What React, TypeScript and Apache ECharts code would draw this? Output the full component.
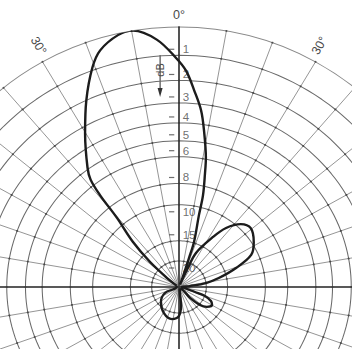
import React, { useEffect, useRef } from "react";
import * as echarts from "echarts";

// Radiation pattern: azimuth (degrees, clockwise from 0° at top) and
// attenuation relative to the main-lobe maximum (dB).
const PATTERN_ANGLES = [
  -60, -51.7, -47.8, -44.2, -40.5, -39.3, -38.1, -36.1, -30.2, -25.3, -20.6, -17.6, -13.0, -9.7,
  -4.9, -0.7, 1.8, 4.2, 6.8, 8.8, 11.2, 12.3, 14.0, 14.8, 17.6, 18.1, 20,
  21.5, 24, 25.5, 32.9, 37.2, 43.1, 49.3, 57.8, 65, 70.7, 76.7, 81.2, 84.6, 90,
  100, 108, 110, 114.7, 119.8, 126.8, 132, 136, 142,
  165, 174, 180, 191.8, 208.8, 228.7, 246, 255,
];
const PATTERN_DB = [
  40, 25.1, 16.9, 12.3, 9.1, 6.8, 5.6, 4.9, 3.3, 2.0, 0.9, 0.4, 0.05, 0,
  0.4, 1.1, 1.6, 2.4, 3.3, 4.4, 5.9, 7.0, 8.8, 10.9, 14.8, 18.6, 28.3,
  40, 22.3, 16.7, 12.8, 10.9, 9.6, 9.2, 9.8, 10.7, 13.1, 16.5, 20.0, 27.9, 40,
  40, 24.2, 19.9, 17.8, 17.1, 17.9, 19.7, 24.7, 40,
  40, 23.1, 19.1, 18.0, 18.8, 21.1, 25.0, 40,
];

// Attenuation levels: grid circles and the labelled dB scale
const GRID_DB = [1, 2, 3, 4, 5, 6, 8, 10, 15, 20];
const SCALE_DB = [1, 2, 3, 4, 5, 6, 8, 10, 15, 20];
const ANGLE_LABELS = ["0°", "30°", "30°"];

// dB attenuation -> relative field strength (radius)
const toAmp = (db: number) => Math.pow(10, -db / 20);

const CX = 179;
const CY = 287;
const R = 260;
const FONT = "Liberation Sans, Arial, sans-serif";
const INK = "#4a4a4a";

export default function App() {
  const ref = useRef<HTMLDivElement>(null);

  useEffect(() => {
    if (!ref.current) return;
    const chart = echarts.init(ref.current, null, { renderer: "svg" });

    const curve = PATTERN_ANGLES.map((a, i) => [toAmp(PATTERN_DB[i]), (a + 360) % 360]);
    curve.push(curve[0]);

    // constant-level rings of the polar grid
    const ringSeries = GRID_DB.map((db) => {
      const pts: number[][] = [];
      for (let a = 0; a <= 360; a += 2) pts.push([toAmp(db), a]);
      return {
        name: `ring ${db}`,
        type: "line",
        coordinateSystem: "polar",
        data: pts,
        symbol: "none",
        lineStyle: { color: "#6a6a6a", width: 1 },
        silent: true,
        z: 1,
      };
    });

    // small marks where rings and spokes cross
    const knots: number[][] = [];
    [0, ...GRID_DB].forEach((db) => {
      for (let a = 0; a < 360; a += 10) knots.push([toAmp(db), a]);
    });

    const belowCircle = new Set([10, 20]);
    const scaleData = SCALE_DB.map((d) => ({
      value: [toAmp(d), 0],
      name: String(d),
      symbolOffset: [-7, belowCircle.has(d) ? 7 : -6],
    }));

    const labelPos = (angleDeg: number, r: number) => {
      const t = (angleDeg * Math.PI) / 180;
      return [CX + r * Math.sin(t), CY - r * Math.cos(t)];
    };
    const [rx, ry] = labelPos(29, 276);
    const [lx, ly] = labelPos(-29, 276);

    chart.setOption({
      animation: false,
      backgroundColor: "#fff",
      textStyle: { fontFamily: FONT },
      polar: { center: [CX, CY], radius: R },
      angleAxis: {
        type: "value",
        min: 0,
        max: 360,
        interval: 10,
        startAngle: 90,
        clockwise: true,
        axisLine: { show: true, lineStyle: { color: "#8a8a8a", width: 1 } },
        axisTick: { show: false },
        axisLabel: { show: false },
        splitLine: { show: true, lineStyle: { color: "#8c8c8c", width: 0.9 } },
      },
      radiusAxis: {
        type: "value",
        min: 0,
        max: 1,
        axisLine: { show: false },
        axisTick: { show: false },
        axisLabel: { show: false },
        splitLine: { show: false },
      },
      series: [
        ...ringSeries,
        {
          name: "knots",
          type: "scatter",
          coordinateSystem: "polar",
          data: knots,
          symbol: "circle",
          symbolSize: 2,
          itemStyle: { color: "#3c3c3c" },
          silent: true,
          z: 2,
        },
        {
          name: "axis-v",
          type: "line",
          coordinateSystem: "polar",
          data: [[1, 0], [1, 180]],
          symbol: "none",
          lineStyle: { color: "#333", width: 1.5 },
          silent: true,
          z: 2,
        },
        {
          name: "axis-h",
          type: "line",
          coordinateSystem: "polar",
          data: [[1, 90], [1, 270]],
          symbol: "none",
          lineStyle: { color: "#333", width: 1.5 },
          silent: true,
          z: 2,
        },
        {
          name: "dB scale",
          type: "scatter",
          coordinateSystem: "polar",
          data: scaleData,
          symbol: "rect",
          symbolSize: [5, 1.2],
          itemStyle: { color: INK },
          label: {
            show: true,
            position: "right",
            offset: [3, 0],
            formatter: (p: any) => p.name,
            fontSize: 11,
            color: INK,
            fontFamily: FONT,
            textBorderWidth: 0,
          },
          silent: true,
          z: 3,
        },
        {
          name: "pattern",
          type: "line",
          coordinateSystem: "polar",
          data: curve,
          smooth: 0.35,
          symbol: "none",
          lineStyle: { color: "#1c1c1c", width: 2.3 },
          z: 4,
        },
      ],
      graphic: [
        {
          type: "text",
          x: CX,
          y: 15,
          style: { text: ANGLE_LABELS[0], fill: INK, font: `12px ${FONT}`, align: "center", verticalAlign: "middle" },
        },
        {
          type: "text",
          x: rx,
          y: ry,
          rotation: Math.PI / 3,
          style: { text: ANGLE_LABELS[1], fill: INK, font: `12px ${FONT}`, align: "center", verticalAlign: "middle" },
        },
        {
          type: "text",
          x: lx,
          y: ly,
          rotation: -Math.PI / 3,
          style: { text: ANGLE_LABELS[2], fill: INK, font: `12px ${FONT}`, align: "center", verticalAlign: "middle" },
        },
        {
          type: "line",
          shape: { x1: 161, y1: 55, x2: 161, y2: 90 },
          style: { stroke: "#333", lineWidth: 1 },
        },
        {
          type: "polygon",
          shape: { points: [[158.6, 88], [163.4, 88], [161, 97]] },
          style: { fill: "#333" },
        },
        {
          type: "text",
          x: 160.5,
          y: 70,
          rotation: Math.PI / 2,
          style: { text: "dB", fill: INK, font: `11px ${FONT}`, align: "center", verticalAlign: "middle" },
        },
      ],
    });

    return () => chart.dispose();
  }, []);

  return (
    <div
      style={{
        position: "fixed",
        left: 0,
        top: 0,
        width: 352,
        height: 349,
        overflow: "hidden",
        background: "#fff",
      }}
    >
      <div
        ref={ref}
        style={{
          width: 352,
          height: 349,
          transform: "scaleX(1.05)",
          transformOrigin: `${CX}px ${CY}px`,
        }}
      />
    </div>
  );
}
